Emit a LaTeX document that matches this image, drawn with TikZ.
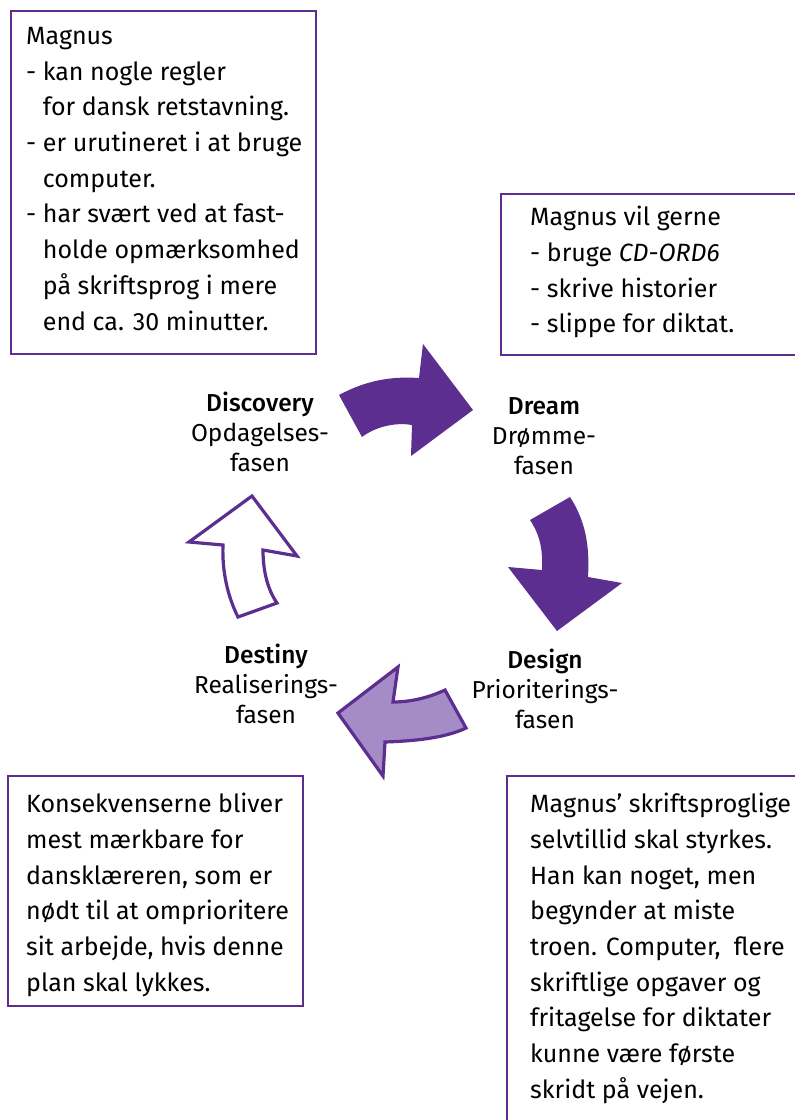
\documentclass[tikz,border=0pt]{standalone}
\usepackage{fontspec}
\setmainfont{Fira Sans}[BoldFont={Fira Sans Medium}]
\definecolor{dpurple}{HTML}{5B2E8F}
\definecolor{lpurple}{HTML}{A68CC7}
\tikzset{
  infobox/.style={draw=dpurple, line width=2.5pt},
  boxtext/.style={anchor=north west, inner sep=0pt, align=left, font=\fontsize{25}{35.7}\selectfont},
  stagelabel/.style={anchor=north, inner sep=0pt, align=center, font=\fontsize{24.5}{30}\selectfont},
  solidarrow/.style={fill=dpurple, draw=none},
  outlinearrow/.style={draw=dpurple, line width=3.2pt, line join=miter},
}
\begin{document}
\begin{tikzpicture}[x=1pt,y=-1pt]
\useasboundingbox (0,0) rectangle (795,1120);
\clip (0,0) rectangle (795,1120);
% boxes
\draw[infobox] (11,11) rectangle (316,354);
\draw[infobox] (501,194) rectangle (805,355);
\draw[infobox] (8,776) rectangle (303,1006);
\draw[infobox] (507,776) rectangle (805,1130);
% box texts
\node[boxtext] (t1) at (26,27) {Magnus\\
- kan nogle regler\\
\hphantom{-\ }for dansk retstavning.\\
- er urutineret i at bruge\\
\hphantom{-\ }computer.\\
- har svært ved at fast-\\
\hphantom{-\ }holde opmærksomhed\\
\hphantom{-\ }på skriftsprog i mere\\
\hphantom{-\ }end ca. 30 minutter.};
\node[boxtext] (t2) at (530,206) {Magnus vil gerne\\
- bruge \textit{CD-ORD6}\\
- skrive historier\\
- slippe for diktat.};
\node[boxtext] (t3) at (26,793) {Konsekvenserne bliver\\
mest mærkbare for\\
dansklæreren, som er\\
nødt til at omprioritere\\
sit arbejde, hvis denne\\
plan skal lykkes.};
\node[boxtext] (t4) at (530,793) {Magnus’ skriftsproglige\\
selvtillid skal styrkes.\\
Han kan noget, men\\
begynder at miste\\
troen. Computer, \ flere\\
skriftlige opgaver og\\
fritagelse for diktater\\
kunne være første\\
skridt på vejen.};
% stage labels
\node[stagelabel] (discovery) at (260,392) {\textbf{Discovery}\\Opdagelses-\\fasen};
\node[stagelabel] (dream) at (544,397) {\textbf{Dream}\\Drømme-\\fasen};
\node[stagelabel] (design) at (545,649) {\textbf{Design}\\Prioriterings-\\fasen};
\node[stagelabel] (destiny) at (266,644) {\textbf{Destiny}\\Realiserings-\\fasen};
% arrows
\fill[solidarrow] (339,395) .. controls (365,381) and (390,376) .. (419,378)
  -- (423,344) -- (473,410) -- (411,456) -- (412,425)
  .. controls (395,422) and (375,427) .. (362,437) -- cycle;
\fill[solidarrow] (530,520) .. controls (540,535) and (543,550) .. (542,570)
  -- (508,567) -- (557,631) -- (622,583) -- (588,577)
  .. controls (590,545) and (585,520) .. (570,497) -- cycle;
\draw[outlinearrow, fill=lpurple] (445,690) .. controls (428,698) and (410,702) .. (393,702)
  -- (398,667) -- (338,713) -- (383,776) -- (385,742)
  .. controls (415,741) and (445,738) .. (466,728) -- cycle;
\draw[outlinearrow, fill=white] (238,617) .. controls (227,595) and (222,570) .. (223,545)
  -- (189,542) -- (252,496) -- (297,556) -- (263,550)
  .. controls (263,572) and (268,590) .. (277,603) -- cycle;
\end{tikzpicture}
\end{document}
